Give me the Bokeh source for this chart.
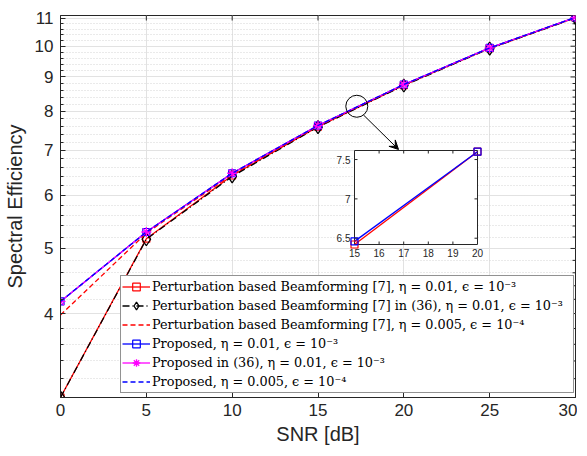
import math
from bokeh.plotting import figure
from bokeh.models import (FixedTicker, Range1d, LinearScale,
                          Legend, LegendItem, Arrow, VeeHead, BasicTickFormatter)
from bokeh.embed import file_html
from bokeh.resources import INLINE

# ---------------- data ----------------
snr = [0, 5, 10, 15, 20, 25, 30]
pert_001 = [3.0, 5.17, 6.42, 7.59, 8.75, 9.93, 11.03]
pert_001_36 = [3.0, 5.16, 6.40, 7.58, 8.74, 9.92, 11.02]
pert_0005 = [3.98, 5.27, 6.44, 7.60, 8.76, 9.93, 11.03]
prop_001 = [4.17, 5.29, 6.47, 7.62, 8.77, 9.94, 11.04]
prop_001_36 = [4.17, 5.29, 6.47, 7.62, 8.77, 9.94, 11.04]
prop_0005 = [4.17, 5.29, 6.47, 7.62, 8.77, 9.94, 11.04]

x_ticks = [0, 5, 10, 15, 20, 25, 30]
y_ticks = [4, 5, 6, 7, 8, 9, 10, 11]
y_minor = [round(3 + 0.2 * i, 1) for i in range(1, 41) if abs((3 + 0.2 * i) - round(3 + 0.2 * i)) > 1e-6]

labels = [
    "Perturbation based Beamforming [7], η = 0.01, ϵ = 10⁻³",
    "Perturbation based Beamforming [7] in (36), η = 0.01, ϵ = 10⁻³",
    "Perturbation based Beamforming [7], η = 0.005, ϵ = 10⁻⁴",
    "Proposed, η = 0.01, ϵ = 10⁻³",
    "Proposed in (36), η = 0.01, ϵ = 10⁻³",
    "Proposed, η = 0.005, ϵ = 10⁻⁴",
]

# inset (zoom) data
inset_x = [15, 20]
inset_red = [6.42, 7.60]
inset_blue = [6.46, 7.60]
inset_xticks = [15, 16, 17, 18, 19, 20]
inset_yticks = [6.5, 7, 7.5]
inset_ylabels = ["6.5", "7", "7.5"]
inset_xlim = (15, 20)
inset_ylim = (6.42, 7.615)

# zoom marker and arrow (data coordinates of main axes)
zoom_center = (17.26, 8.14)
arrow_start = (17.65, 7.90)
arrow_end = (19.69, 7.02)

X_LIM = (0, 30)
Y_LIM = (3.0, 11.11)

AX = "#262626"
FW, FH = 515, 382

p = figure(frame_width=FW, frame_height=FH,
           x_range=Range1d(*X_LIM), y_range=Range1d(*Y_LIM),
           y_axis_type="log", output_backend="svg", toolbar_location=None,
           min_border_left=54, min_border_right=2, min_border_top=15, min_border_bottom=51)
p.background_fill_color = "white"
p.border_fill_color = "white"
p.outline_line_color = AX

xt = FixedTicker(ticks=x_ticks, minor_ticks=[])
yt = FixedTicker(ticks=y_ticks, minor_ticks=y_minor)

p.xaxis.ticker = xt
p.yaxis.ticker = yt
p.yaxis.formatter = BasicTickFormatter()
for ax in (p.xaxis[0], p.yaxis[0]):
    ax.major_tick_in = 5
    ax.major_tick_out = 0
    ax.minor_tick_in = 3
    ax.minor_tick_out = 0
    ax.axis_line_color = AX
    ax.major_tick_line_color = AX
    ax.minor_tick_line_color = AX
    ax.major_label_text_font = "Liberation Sans"
    ax.major_label_text_font_size = "17px"
    ax.major_label_text_color = AX
    ax.axis_label_text_font = "Liberation Sans"
    ax.axis_label_text_font_size = "20px"
    ax.axis_label_text_font_style = "normal"
    ax.axis_label_text_color = AX
p.xaxis.minor_tick_line_color = None
p.xaxis.axis_label = "SNR [dB]"
p.yaxis.axis_label = "Spectral Efficiency"
p.xaxis.major_label_standoff = 6
p.yaxis.major_label_standoff = 7
p.xaxis.axis_label_standoff = 4
p.yaxis.axis_label_standoff = 6

# mirrored ticks on top and right edges (box)
p.ray(x=x_ticks, y=[Y_LIM[1]] * len(x_ticks), length=5, length_units="screen",
      angle=-math.pi / 2, line_color=AX)
p.ray(x=[X_LIM[1]] * len(y_ticks), y=y_ticks, length=5, length_units="screen",
      angle=math.pi, line_color=AX)
p.ray(x=[X_LIM[1]] * len(y_minor), y=y_minor, length=3, length_units="screen",
      angle=math.pi, line_color=AX)

p.xgrid.grid_line_color = "#e2e2e2"
p.ygrid.grid_line_color = "#e2e2e2"
p.ygrid.minor_grid_line_color = "#d4d4d4"
p.ygrid.minor_grid_line_dash = "1 2"

# ---------------- series ----------------
r1l = p.line(snr, pert_001, line_color="red", line_width=1.3)
r1m = p.scatter(snr, pert_001, marker="square", size=7, fill_color=None, line_color="red", line_width=1.2)
r2l = p.line(snr, pert_001_36, line_color="black", line_width=1.3, line_dash="7 3 1 3")
r2m = p.scatter(snr, pert_001_36, marker="diamond", size=13, fill_color=None,
                line_color="black", line_width=1.3)
r3l = p.line(snr, pert_0005, line_color="red", line_width=1.3, line_dash="5 3")
r4l = p.line(snr, prop_001, line_color="blue", line_width=1.3)
r4m = p.scatter(snr, prop_001, marker="square", size=7, fill_color=None, line_color="blue", line_width=1.2)
r5l = p.line(snr, prop_001_36, line_color="magenta", line_width=1.3)
r5m = p.scatter(snr, prop_001_36, marker="asterisk", size=10, line_color="magenta", line_width=1.3)
r6l = p.line(snr, prop_0005, line_color="blue", line_width=1.3, line_dash="5 3")

# ---------------- zoom circle + arrow ----------------
p.scatter([zoom_center[0]], [zoom_center[1]], marker="circle", size=22, fill_color=None,
          line_color="black", line_width=1)
p.add_layout(Arrow(end=VeeHead(size=9, fill_color="black", line_color="black"),
                   x_start=arrow_start[0], y_start=arrow_start[1],
                   x_end=arrow_end[0], y_end=arrow_end[1], line_color="black", line_width=1))

# ---------------- inset via extra linear ranges ----------------
# inset box in frame pixels: left 294, right 417, top 135, bottom 229
ix_scale = (417 - 294) / (inset_xlim[1] - inset_xlim[0])
ix_start = inset_xlim[0] - 294 / ix_scale
iy_scale = (229 - 135) / (inset_ylim[1] - inset_ylim[0])
iy_end = inset_ylim[1] + 135 / iy_scale
iy_start = inset_ylim[0] - (FH - 229) / iy_scale
p.extra_x_ranges = {"ix": Range1d(ix_start, ix_start + FW / ix_scale)}
p.extra_y_ranges = {"iy": Range1d(iy_start, iy_end)}
p.extra_x_scales = {"ix": LinearScale()}
p.extra_y_scales = {"iy": LinearScale()}
kw = dict(x_range_name="ix", y_range_name="iy")

p.quad(left=inset_xlim[0], right=inset_xlim[1], bottom=inset_ylim[0], top=inset_ylim[1],
       fill_color="white", line_color=AX, line_width=1, **kw)
p.line(inset_x, inset_red, line_color="red", line_width=1.3, **kw)
p.line(inset_x, inset_blue, line_color="blue", line_width=1.3, **kw)
p.scatter(inset_x, inset_red, marker="square", size=7, fill_color=None, line_color="red", line_width=1.2, **kw)
p.scatter(inset_x, inset_blue, marker="square", size=7, fill_color=None, line_color="blue", line_width=1.2, **kw)

inner_x = inset_xticks[1:-1]
p.ray(x=inner_x, y=[inset_ylim[0]] * len(inner_x), length=3, length_units="screen",
      angle=math.pi / 2, line_color=AX, **kw)
p.ray(x=inner_x, y=[inset_ylim[1]] * len(inner_x), length=3, length_units="screen",
      angle=-math.pi / 2, line_color=AX, **kw)
p.ray(x=[inset_xlim[0]] * 3, y=inset_yticks, length=3, length_units="screen",
      angle=0, line_color=AX, **kw)
p.ray(x=[inset_xlim[1]] * 3, y=inset_yticks, length=3, length_units="screen",
      angle=math.pi, line_color=AX, **kw)
p.text(x=inset_xticks, y=[inset_ylim[0]] * len(inset_xticks), text=[str(t) for t in inset_xticks],
       text_align="center", text_baseline="top", y_offset=4, text_font_size="10px",
       text_color=AX, **kw)
p.text(x=[inset_xlim[0]] * 3, y=inset_yticks, text=inset_ylabels,
       text_align="right", text_baseline="middle", x_offset=-4, text_font_size="10px",
       text_color=AX, **kw)

# ---------------- legend ----------------
items = [
    LegendItem(label=labels[0], renderers=[r1l, r1m]),
    LegendItem(label=labels[1], renderers=[r2l, r2m]),
    LegendItem(label=labels[2], renderers=[r3l]),
    LegendItem(label=labels[3], renderers=[r4l, r4m]),
    LegendItem(label=labels[4], renderers=[r5l, r5m]),
    LegendItem(label=labels[5], renderers=[r6l]),
]
legend = Legend(items=items, location=(60, 4), orientation="vertical",
                label_text_font="DejaVu Serif", label_text_font_size="12.8px",
                label_text_color="black", label_height=19, glyph_height=19, glyph_width=28,
                label_width=420, label_standoff=2, spacing=0, padding=1, margin=0,
                border_line_color=AX, border_line_width=1,
                background_fill_color="white", background_fill_alpha=1)
p.add_layout(legend, "center")

open("out.html", "w").write(file_html(p, INLINE))
